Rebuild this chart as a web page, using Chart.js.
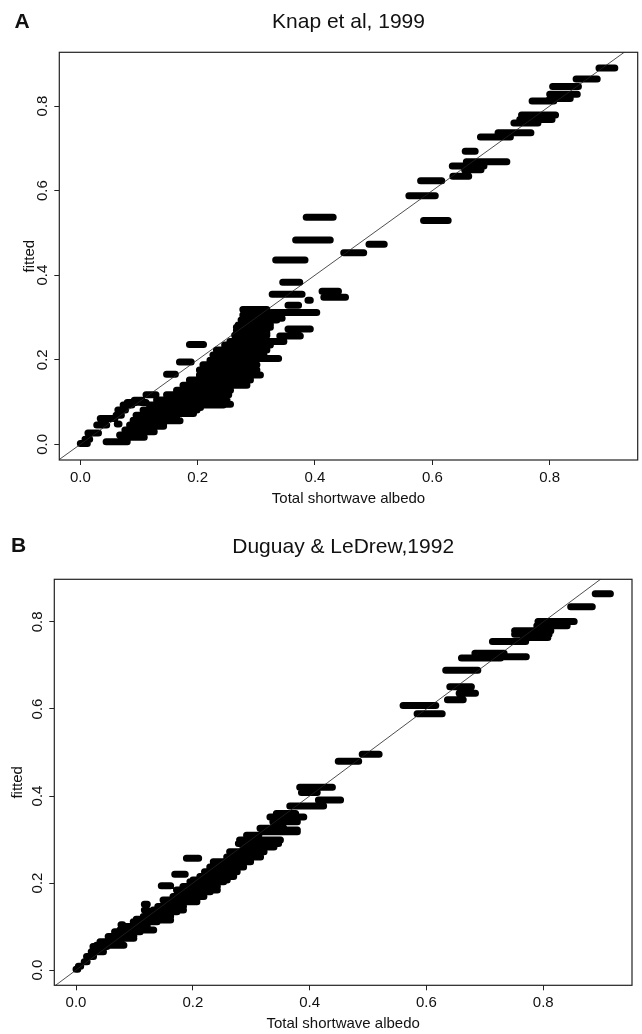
<!DOCTYPE html>
<html>
<head>
<meta charset="utf-8">
<script src="https://cdn.jsdelivr.net/npm/chart.js@4.4.1/dist/chart.umd.min.js"></script>
<style>
	html, body { margin: 0; padding: 0; background: #fff; }
	canvas { position: absolute; left: 0; }
</style>
</head>
<body>
<canvas id="grafico-knap" width="642" height="517" style="top:0"></canvas>
<canvas id="grafico-duguay" width="642" height="517" style="top:517px"></canvas>
<script>

	var xTicks = [0, 0.2, 0.4, 0.6, 0.8];
	var yTicks = [0, 0.2, 0.4, 0.6, 0.8];

	// Knap et al, 1999: each dash = run of points sharing one fitted value
	var knapFrom = [
		0.884, 0.845, 0.805, 0.800, 0.800, 0.770, 0.752, 0.749, 0.739, 0.712,
		0.682, 0.656, 0.658, 0.634, 0.655, 0.635, 0.580, 0.560, 0.585, 0.492,
		0.449, 0.385, 0.367, 0.333, 0.345, 0.327, 0.412, 0.415, 0.388, 0.354,
		0.277, 0.326, 0.277, 0.266, 0.354, 0.266, 0.340, 0.255, 0.186, 0.232,
		0.291, 0.169, 0.147, 0.112, 0.277, 0.274, 0.269, 0.266, 0.263, 0.246,
		0.226, 0.221, 0.209, 0.203, 0.203, 0.186, 0.175, 0.164, 0.147, 0.130,
		0.118, 0.107, 0.095, 0.090, 0.084, 0.076, 0.067, 0.044, 0.078, 0.084,
		0.095, 0.107, 0.118, 0.135, 0.164, 0.000, 0.008, 0.013, 0.028, 0.034,
		0.061, 0.063, 0.073, 0.080, 0.103, 0.092, 0.064
	];
	var knapTo = [
		0.911, 0.881, 0.849, 0.847, 0.835, 0.807, 0.810, 0.804, 0.780, 0.768,
		0.733, 0.673, 0.727, 0.688, 0.683, 0.662, 0.616, 0.605, 0.627, 0.518,
		0.483, 0.431, 0.426, 0.383, 0.374, 0.378, 0.440, 0.452, 0.392, 0.372,
		0.318, 0.403, 0.344, 0.324, 0.392, 0.318, 0.375, 0.347, 0.210, 0.318,
		0.338, 0.189, 0.162, 0.129, 0.341, 0.335, 0.324, 0.318, 0.318, 0.324,
		0.313, 0.296, 0.301, 0.301, 0.307, 0.290, 0.284, 0.256, 0.253, 0.250,
		0.244, 0.199, 0.165, 0.153, 0.142, 0.119, 0.091, 0.080, 0.109, 0.126,
		0.142, 0.170, 0.193, 0.205, 0.256, 0.012, 0.016, 0.031, 0.045, 0.059,
		0.070, 0.066, 0.088, 0.095, 0.112, 0.105, 0.077
	];
	var knapFitted = [
		0.890, 0.864, 0.846, 0.828, 0.818, 0.812, 0.779, 0.768, 0.760, 0.737,
		0.727, 0.693, 0.668, 0.658, 0.649, 0.634, 0.623, 0.588, 0.529, 0.473,
		0.453, 0.537, 0.483, 0.436, 0.383, 0.355, 0.362, 0.348, 0.341, 0.329,
		0.319, 0.312, 0.298, 0.277, 0.273, 0.262, 0.256, 0.243, 0.236, 0.223,
		0.203, 0.195, 0.166, 0.117, 0.306, 0.294, 0.282, 0.270, 0.258, 0.235,
		0.211, 0.199, 0.188, 0.176, 0.164, 0.152, 0.140, 0.128, 0.117, 0.105,
		0.093, 0.081, 0.069, 0.057, 0.046, 0.034, 0.022, 0.006, 0.017, 0.030,
		0.043, 0.056, 0.073, 0.087, 0.095, 0.002, 0.012, 0.027, 0.046, 0.061,
		0.069, 0.048, 0.093, 0.099, 0.099, 0.104, 0.081
	];

	// Duguay & LeDrew, 1992
	var duguayFrom = [
		0.889, 0.847, 0.791, 0.789, 0.751, 0.751, 0.766, 0.713, 0.683, 0.660,
		0.731, 0.633, 0.640, 0.656, 0.636, 0.560, 0.584, 0.490, 0.449, 0.383,
		0.386, 0.415, 0.366, 0.343, 0.332, 0.337, 0.332, 0.315, 0.292, 0.278,
		0.286, 0.189, 0.169, 0.146, 0.117, 0.117, 0.103, 0.077, 0.320, 0.280,
		0.263, 0.258, 0.235, 0.229, 0.220, 0.212, 0.195, 0.183, 0.175, 0.166,
		0.155, 0.140, 0.132, 0.115, 0.098, 0.083, 0.066, 0.055, 0.041, 0.029,
		0.026, 0.018, 0.014, 0.004, 0.000, 0.200, 0.172, 0.149, 0.132, 0.103,
		0.075, 0.063, 0.035
	];
	var duguayTo = [
		0.915, 0.884, 0.853, 0.841, 0.813, 0.810, 0.808, 0.770, 0.733, 0.727,
		0.771, 0.688, 0.677, 0.684, 0.663, 0.616, 0.627, 0.519, 0.484, 0.439,
		0.413, 0.453, 0.424, 0.376, 0.390, 0.379, 0.379, 0.356, 0.313, 0.347,
		0.339, 0.210, 0.187, 0.162, 0.122, 0.122, 0.107, 0.080, 0.379, 0.350,
		0.322, 0.316, 0.299, 0.287, 0.276, 0.270, 0.253, 0.242, 0.230, 0.219,
		0.207, 0.184, 0.173, 0.162, 0.139, 0.122, 0.110, 0.099, 0.076, 0.053,
		0.047, 0.030, 0.019, 0.008, 0.003, 0.259, 0.242, 0.207, 0.184, 0.162,
		0.133, 0.099, 0.082
	];
	var duguayFitted = [
		0.865, 0.835, 0.801, 0.791, 0.780, 0.772, 0.764, 0.755, 0.728, 0.717,
		0.720, 0.689, 0.651, 0.636, 0.621, 0.608, 0.589, 0.496, 0.480, 0.420,
		0.408, 0.391, 0.377, 0.360, 0.352, 0.341, 0.322, 0.326, 0.310, 0.291,
		0.283, 0.257, 0.220, 0.194, 0.151, 0.138, 0.117, 0.104, 0.318, 0.299,
		0.272, 0.260, 0.249, 0.237, 0.226, 0.215, 0.203, 0.192, 0.180, 0.169,
		0.157, 0.146, 0.134, 0.123, 0.111, 0.100, 0.088, 0.077, 0.065, 0.054,
		0.042, 0.031, 0.019, 0.009, 0.002, 0.207, 0.184, 0.161, 0.138, 0.115,
		0.092, 0.073, 0.057
	];

	var fonte = '"Liberation Sans", Arial, Helvetica, sans-serif';

	function segmentos(from, to, fitted) {
		var pts = [];
		for (var i = 0; i < fitted.length; i++) {
			pts.push({x: from[i], y: fitted[i]});
			pts.push({x: to[i], y: fitted[i]});
			pts.push({x: to[i], y: null});
		}
		return pts;
	}

	function comoTicks(valores) {
		return function(scale) {
			scale.ticks = valores.map(function(v) { return {value: v}; });
		};
	}

	var textoPainel = {
		id: 'textoPainel',
		afterDraw: function(chart, args, opts) {
			var ctx = chart.ctx;
			var area = chart.chartArea;
			ctx.save();
			ctx.strokeStyle = '#222';
			ctx.lineWidth = 1.2;
			ctx.strokeRect(area.left, area.top, area.right - area.left, area.bottom - area.top);
			ctx.fillStyle = '#111';
			ctx.textAlign = 'center';
			ctx.textBaseline = 'middle';
			ctx.font = 'bold 21px ' + fonte;
			ctx.fillText(opts.letra, opts.letraX, opts.letraY);
			ctx.font = '21px ' + fonte;
			ctx.fillText(opts.titulo, (area.left + area.right) / 2, opts.tituloY);
			ctx.restore();
		}
	};

	function construirGrafico(id, cfg) {
		var ctx = document.getElementById(id);
		var eixoGrid = { drawOnChartArea: false, drawTicks: true, tickLength: 5, color: '#222', lineWidth: 1 };
		return new Chart(ctx, {
			type: 'line',
			data: {
				datasets: [
				{
					data: [{x: -0.1, y: -0.1}, {x: 1, y: 1}],
					borderColor: '#222',
					borderWidth: 0.8,
					pointRadius: 0
				},
				{
					data: segmentos(cfg.from, cfg.to, cfg.fitted),
					borderColor: '#000',
					borderWidth: 7,
					borderCapStyle: 'round',
					borderJoinStyle: 'round',
					pointRadius: 0,
					spanGaps: false
				}]
			},
			options: {
				responsive: false,
				animation: false,
				events: [],
				layout: { padding: cfg.padding },
				plugins: {
					legend: { display: false },
					tooltip: { enabled: false },
					textoPainel: cfg.texto
				},
				scales: {
					x: {
						type: 'linear',
						min: cfg.xMin,
						max: cfg.xMax,
						afterBuildTicks: comoTicks(xTicks),
						afterFit: function(s) { s.height = cfg.xAltura; },
						ticks: {
							callback: function(v) { return v.toFixed(1); },
							font: { size: 15, family: fonte },
							color: '#111',
							padding: cfg.xPad,
							maxRotation: 0,
							autoSkip: false
						},
						grid: eixoGrid,
						border: { display: false },
						title: {
							display: true,
							text: 'Total shortwave albedo',
							font: { size: 15, family: fonte },
							color: '#111',
							padding: { top: 0, bottom: cfg.xTituloPad }
						}
					},
					y: {
						type: 'linear',
						min: cfg.yMin,
						max: cfg.yMax,
						afterBuildTicks: comoTicks(yTicks),
						afterFit: function(s) { s.width = cfg.yLargura; },
						ticks: {
							callback: function(v) { return v.toFixed(1); },
							font: { size: 15, family: fonte },
							color: '#111',
							padding: cfg.yPad,
							minRotation: 90,
							maxRotation: 90,
							crossAlign: 'center',
							autoSkip: false
						},
						grid: eixoGrid,
						border: { display: false },
						title: {
							display: true,
							text: 'fitted',
							font: { size: 15, family: fonte },
							color: '#111',
							padding: { top: cfg.yTituloPad, bottom: 0 }
						}
					}
				}
			},
			plugins: [textoPainel]
		});
	}

	construirGrafico('grafico-knap', {
		from: knapFrom, to: knapTo, fitted: knapFitted,
		xMin: -0.0358, xMax: 0.950, yMin: -0.037, yMax: 0.927,
		padding: { left: 0, top: 52.3, right: 4.3, bottom: 0 },
		xAltura: 57, xPad: 4, xTituloPad: 9,
		yLargura: 59.3, yPad: 1, yTituloPad: 21,
		texto: { letra: 'A', letraX: 22, letraY: 22.5, titulo: 'Knap et al, 1999', tituloY: 22.5 }
	});

	construirGrafico('grafico-duguay', {
		from: duguayFrom, to: duguayTo, fitted: duguayFitted,
		xMin: -0.0372, xMax: 0.952, yMin: -0.035, yMax: 0.898,
		padding: { left: 0, top: 62.3, right: 10, bottom: 0 },
		xAltura: 48.7, xPad: 3.7, xTituloPad: 1,
		yLargura: 54.3, yPad: 1, yTituloPad: 9,
		texto: { letra: 'B', letraX: 18.5, letraY: 29.7, titulo: 'Duguay & LeDrew,1992', tituloY: 30 }
	});
</script>
</body>
</html>
